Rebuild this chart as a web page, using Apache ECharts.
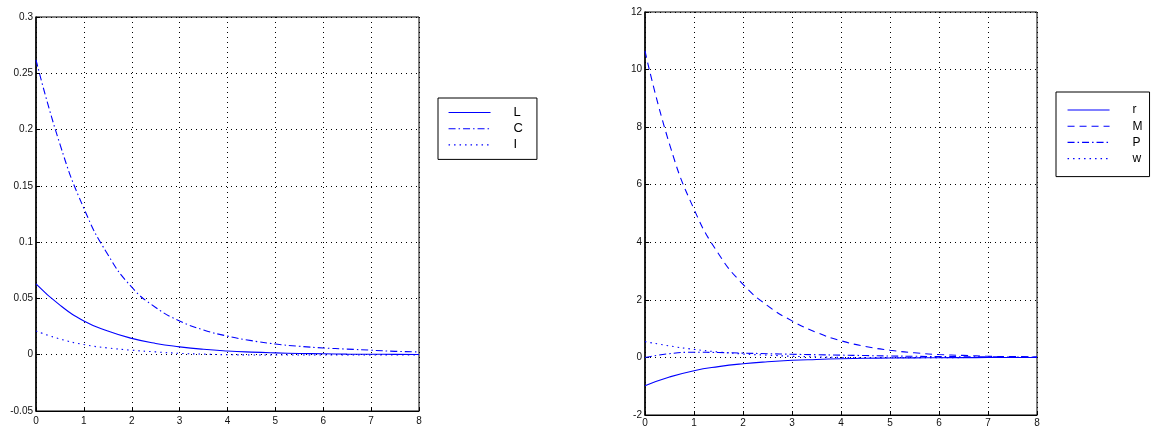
<!DOCTYPE html>
<html>
<head>
<meta charset="utf-8">
<script src="https://cdn.jsdelivr.net/npm/echarts@6/dist/echarts.min.js"></script>
<style>
html,body{margin:0;padding:0;background:#fff;}
#chart{width:1151px;height:428px;}
</style>
</head>
<body>
<div id="chart"></div>
<script>
// Shared x sample positions (time)
var X = [0,0.5,1,1.5,2,2.5,3,3.5,4,4.5,5,5.5,6,6.5,7,7.5,8];

// Left panel series
var L = [0.063,0.044,0.030,0.021,0.0145,0.010,0.007,0.0048,0.0033,0.0023,0.0016,0.0011,0.0008,0.0005,0.0004,0.0003,0.0002];
var C = [0.262,0.187,0.130,0.089,0.060,0.042,0.030,0.022,0.0165,0.0125,0.0095,0.0075,0.006,0.005,0.004,0.003,0.0025];
var I = [0.021,0.014,0.009,0.006,0.004,0.0025,0.0012,0.0005,0,-0.0002,-0.0003,-0.0003,-0.0003,-0.0002,-0.0002,-0.0001,-0.0001];

// Right panel series
var r = [-0.98,-0.68,-0.46,-0.32,-0.22,-0.15,-0.10,-0.07,-0.045,-0.03,-0.02,-0.014,-0.01,-0.007,-0.005,-0.003,-0.002];
var M = [10.65,7.41,5.15,3.6,2.54,1.8,1.27,0.87,0.58,0.38,0.25,0.16,0.10,0.07,0.04,0.03,0.02];
var P = [0,0.13,0.18,0.17,0.15,0.13,0.11,0.095,0.08,0.065,0.05,0.04,0.03,0.025,0.02,0.015,0.01];
var w = [0.55,0.40,0.28,0.19,0.12,0.08,0.04,0.02,0.0,-0.01,-0.01,-0.01,-0.01,-0.005,0,0,0];

// Axis ranges / ticks
var leftY = {min:-0.05, max:0.3, interval:0.05};
var rightY = {min:-2, max:12, interval:2};
var xRange = {min:0, max:8, interval:1};

function pairs(xs, ys){ return xs.map(function(x,i){ return [x, ys[i]]; }); }

var BLUE = '#0000ff';
var SOLID = 'solid';
var DASHDOT = [7,3,1.5,3];
var DASHED = [7,5];
var DOTTED = [1.5,4];

function mkSeries(name, ys, dash, idx){
  return {
    name: name, type: 'line', xAxisIndex: idx, yAxisIndex: idx,
    data: pairs(X, ys), smooth: true, symbol: 'none', showSymbol: false,
    lineStyle: {color: BLUE, width: 1.1, type: dash},
    itemStyle: {color: BLUE},
    animation: false
  };
}

var axisLabelStyle = {color:'#111', fontSize:10, fontFamily:'Liberation Sans, Arial, sans-serif'};
var gridLine = {show:true, lineStyle:{color:'#000', width:1, type:[1,4]}};

function xAxis(idx, margin){
  return {
    type:'value', gridIndex: idx, min:xRange.min, max:xRange.max, interval:xRange.interval,
    axisLine:{show:true, onZero:false, lineStyle:{color:'#000', width:1}},
    axisTick:{show:true, inside:true, length:4, lineStyle:{color:'#000'}},
    axisLabel: Object.assign({margin: margin}, axisLabelStyle),
    splitLine: gridLine
  };
}
function yAxis(idx, rng){
  return {
    type:'value', gridIndex: idx, min:rng.min, max:rng.max, interval:rng.interval,
    axisLine:{show:true, onZero:false, lineStyle:{color:'#000', width:1.5}},
    axisTick:{show:true, inside:true, length:4, lineStyle:{color:'#000'}},
    axisLabel: Object.assign({margin: 3}, axisLabelStyle),
    splitLine: gridLine
  };
}

function legendCfg(names, left, top, pad, fontSize, gap){
  return {
    data: names, orient:'vertical', left:left, top:top,
    backgroundColor:'#fff', borderColor:'#000', borderWidth:1, borderRadius:0,
    padding: pad, itemWidth:42, itemHeight:10, itemGap:gap,
    selectedMode:false,
    itemStyle:{opacity:0},
    lineStyle:{width:1.1, inactiveWidth:1.1},
    textStyle:{color:'#000', fontSize:fontSize, lineHeight:10, fontFamily:'Liberation Sans, Arial, sans-serif', padding:[0,0,0,18]}
  };
}

var option = {
  backgroundColor:'#fff',
  animation:false,
  grid:[
    {left:36, top:17, width:383, height:394, show:true, borderColor:'#000', borderWidth:1, backgroundColor:'#fff'},
    {left:645, top:12, width:392, height:404, show:true, borderColor:'#000', borderWidth:1, backgroundColor:'#fff'}
  ],
  xAxis:[xAxis(0,5), xAxis(1,3)],
  yAxis:[yAxis(0,leftY), yAxis(1,rightY)],
  legend:[
    legendCfg(['L','C','I'], 438, 98, [8,14,8,10], 13, 3.2),
    legendCfg(['r','M','P','w'], 1056, 92, [12,7,12,11], 12, 4.2)
  ],
  series:[
    mkSeries('L', L, SOLID, 0),
    mkSeries('C', C, DASHDOT, 0),
    mkSeries('I', I, DOTTED, 0),
    mkSeries('r', r, SOLID, 1),
    mkSeries('M', M, DASHED, 1),
    mkSeries('P', P, DASHDOT, 1),
    mkSeries('w', w, DOTTED, 1)
  ]
};

var chart = echarts.init(document.getElementById('chart'), null, {renderer:'canvas'});
chart.setOption(option);
</script>
</body>
</html>
